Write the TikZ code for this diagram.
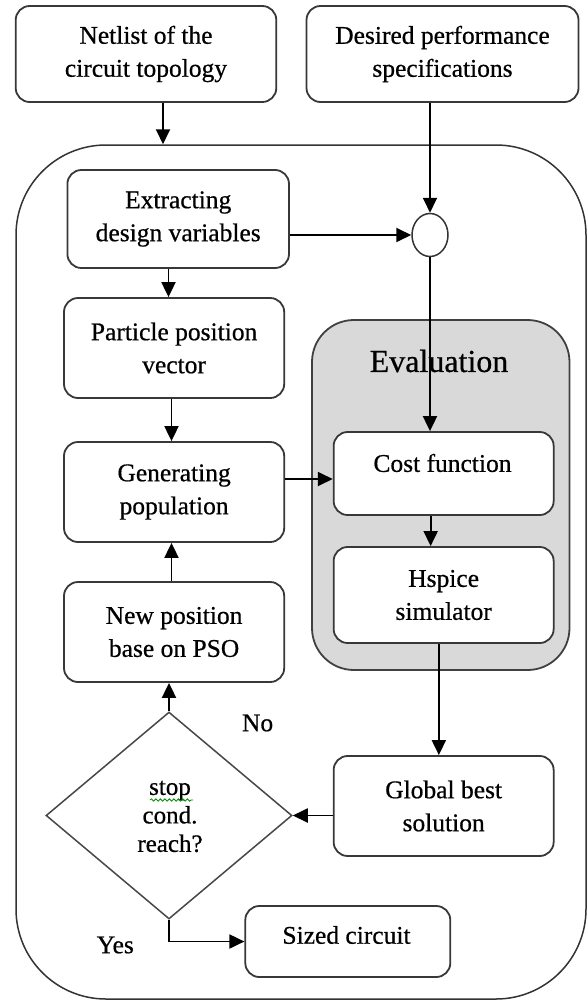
\documentclass[tikz,border=0pt]{standalone}
\usepackage{fontspec}
\setmainfont{Liberation Serif}[FakeBold=0.6]
\usetikzlibrary{arrows.meta,shapes.geometric,decorations.pathmorphing}
\begin{document}
\begin{tikzpicture}[x=1pt,y=-1pt,
  every node/.style={font=\fontsize{25.5}{33}\selectfont, inner sep=0pt, align=center},
  box/.style={draw=black!78, line width=1.8pt, rounded corners=14pt, fill=white},
  arr/.style={draw=black, line width=1.9pt, -{Triangle[length=15pt,width=14pt]}},
  lbl/.style={font=\fontsize{25}{28.5}\selectfont},
]
\useasboundingbox (0,0) rectangle (587,1001);

% outer loop frame and evaluation panel
\node[draw=black!80, line width=1.5pt, rounded corners=90pt,
      minimum width=570pt, minimum height=854pt] (frame) at (301,572) {};
\node[draw=black!75, line width=1.8pt, fill=black!15, rounded corners=42pt,
      minimum width=257.5pt, minimum height=350pt] (eval) at (440.75,495) {};
\node[font=\fontsize{32}{36}\selectfont] (evaltitle) at (439,361) {Evaluation};

% inputs
\node[box, minimum width=260.6pt, minimum height=96pt] (net) at (146,54) {Netlist of the\\circuit topology};
\node[box, minimum width=272pt, minimum height=96pt] (des) at (442.5,54) {Desired performance\\specifications};

% left column
\node[box, minimum width=221.6pt, minimum height=98pt] (ext) at (178.2,219) {Extracting\\design variables};
\node[box, minimum width=220.2pt, minimum height=100pt] (part) at (174.1,348) {Particle position\\vector};
\node[box, minimum width=220.2pt, minimum height=100pt] (gen) at (174.1,492) {Generating\\population};
\node[box, minimum width=220.2pt, minimum height=100pt] (new) at (174.1,632) {New position\\base on PSO};

% junction
\node[draw=black!80, line width=1.5pt, ellipse, fill=white,
      minimum width=36pt, minimum height=43pt] (circ) at (430,235) {};

% evaluation blocks
\node[box, minimum width=220pt, minimum height=83pt] (cost) at (443.65,473.5) {};
\node (costtext) at (442.5,463) {Cost function};
\node[box, minimum width=220pt, minimum height=96pt] (hsp) at (443.65,595) {Hspice\\simulator};

% result and decision
\node[box, minimum width=220pt, minimum height=100pt] (glob) at (443.65,806) {Global best\\solution};
\node[draw=black!72, line width=1.5pt, diamond, fill=white,
      minimum width=246pt, minimum height=207pt] (dia) at (169,815.5) {};
\node[lbl] (dtext) at (170,816.5) {stop\\cond.\\reach?};
\draw[green!55!black, line width=0.8pt, decorate,
      decoration={snake, amplitude=1.2pt, segment length=4.5pt}] (150,800) -- (193,800);
\node[box, minimum width=205pt, minimum height=71pt] (sized) at (347.8,941.5) {};
\node (sizedtext) at (346.5,935) {Sized circuit};

\node (no) at (257.6,723) {No};
\node (yes) at (115.3,945) {Yes};

% connectors
\draw[arr] ([xshift=17pt]net.south) -- ([xshift=17pt]net.south |- frame.north);
\draw[arr] (circ.north |- des.south) -- (circ.north);
\draw[arr] (ext.east |- circ.west) -- (circ.west);
\draw[arr] ([xshift=-9.7pt]ext.south) -- ([xshift=-9.7pt]ext.south |- part.north);
\draw[arr] ([xshift=-2.6pt]part.south) -- ([xshift=-2.6pt]gen.north);
\draw[arr] (circ.south) -- (circ.south |- cost.north);
\draw[arr] ([yshift=13pt]gen.east) -- ([yshift=13pt]gen.east -| cost.west);
\draw[arr] ([xshift=-13pt]cost.south) -- ([xshift=-13pt]hsp.north);
\draw[arr] ([xshift=-4.8pt]hsp.south) -- ([xshift=-4.8pt]glob.north);
\draw[arr] (glob.west |- dia.east) -- (dia.east);
\draw[arr] (dia.north) -- (dia.north |- new.south);
\draw[arr] ([xshift=-2.6pt]new.north) -- ([xshift=-2.6pt]gen.south);
\draw[arr] (dia.south) |- (sized.west);
\end{tikzpicture}
\end{document}
